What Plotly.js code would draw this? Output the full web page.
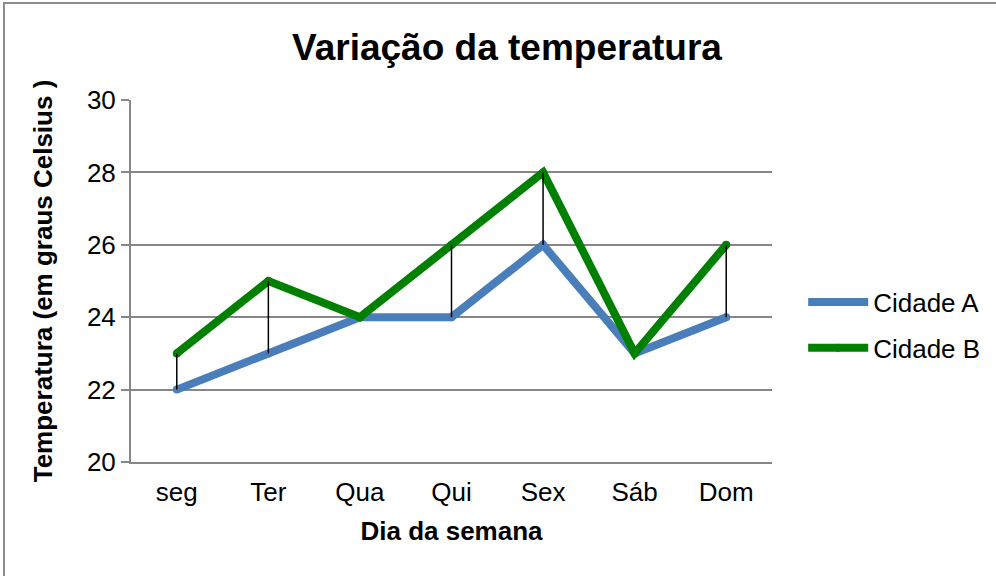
<!DOCTYPE html>
<html>
<head>
<meta charset="utf-8">
<script src="https://cdn.plot.ly/plotly-3.0.1.min.js"></script>
<style>
html,body{margin:0;padding:0;overflow:hidden;background:#fff;}
#frame{position:absolute;left:3px;top:2px;width:1100px;height:700px;border:2px solid #8c8c8c;box-sizing:border-box;pointer-events:none;z-index:5;}
#chart{width:996px;height:576px;}
</style>
</head>
<body>
<div id="frame"></div>
<div id="chart"></div>
<script>
const dias = ["seg", "Ter", "Qua", "Qui", "Sex", "Sáb", "Dom"];
const cidadeA = [22, 23, 24, 24, 26, 23, 24];
const cidadeB = [23, 25, 24, 26, 28, 23, 26];
const yTicks = [20, 22, 24, 26, 28, 30];

const hlX = [], hlY = [];
dias.forEach((d, i) => { hlX.push(d, d, null); hlY.push(cidadeA[i], cidadeB[i], null); });

const font = "Liberation Sans, Arial, sans-serif";
const traces = [
  {x: dias, y: cidadeA, name: "Cidade A", type: "scatter", mode: "lines+markers",
   line: {color: "#4A7EBB", width: 8}, marker: {color: "#4A7EBB", size: 8, line: {width: 0}},
   legendgroup: "a"},
  {x: dias, y: cidadeB, name: "Cidade B", type: "scatter", mode: "lines+markers",
   line: {color: "#008000", width: 8}, marker: {color: "#008000", size: 8, line: {width: 0}},
   legendgroup: "b"},
  {x: hlX, y: hlY, type: "scatter", mode: "lines", showlegend: false,
   line: {color: "#000000", width: 1.5}, hoverinfo: "skip"}
];

const layout = {
  width: 996, height: 576,
  margin: {l: 131, r: 223, t: 100, b: 114},
  paper_bgcolor: "#ffffff", plot_bgcolor: "#ffffff",
  font: {family: font, color: "#000", size: 26},
  title: {text: "<b>Variação da temperatura</b>", font: {size: 37, family: font, color: "#000"},
          x: 0.509, xanchor: "center", y: 0.918, yanchor: "middle"},
  xaxis: {
    type: "category", categoryorder: "array", categoryarray: dias,
    range: [-0.5, 6.5],
    showgrid: false, zeroline: false,
    showline: true, linecolor: "#868686", linewidth: 2,
    ticks: "", ticklabelstandoff: 6, tickfont: {size: 26, family: font, color: "#000"},
    title: {text: "<b>Dia da semana</b>", font: {size: 26, family: font, color: "#000"}, standoff: 16}
  },
  yaxis: {
    range: [20, 30], tickvals: yTicks, ticktext: yTicks.map(String),
    showgrid: true, gridcolor: "#868686", gridwidth: 2, zeroline: false,
    showline: true, linecolor: "#868686", linewidth: 2,
    ticks: "outside", ticklen: 8, tickcolor: "#868686", tickwidth: 2,
    tickfont: {size: 26, family: font, color: "#000"},
    title: {text: "<b>Temperatura (em graus Celsius )</b>", font: {size: 26, family: font, color: "#000"}, standoff: 27}
  },
  showlegend: true,
  legend: {x: 1.047, xanchor: "left", y: 0.378, yanchor: "middle",
           font: {size: 26, family: font, color: "#000"},
           itemwidth: 60, traceorder: "grouped", tracegroupgap: 9,
           bgcolor: "rgba(0,0,0,0)"}
};

Plotly.newPlot("chart", traces, layout, {displayModeBar: false, staticPlot: true});
</script>
</body>
</html>
